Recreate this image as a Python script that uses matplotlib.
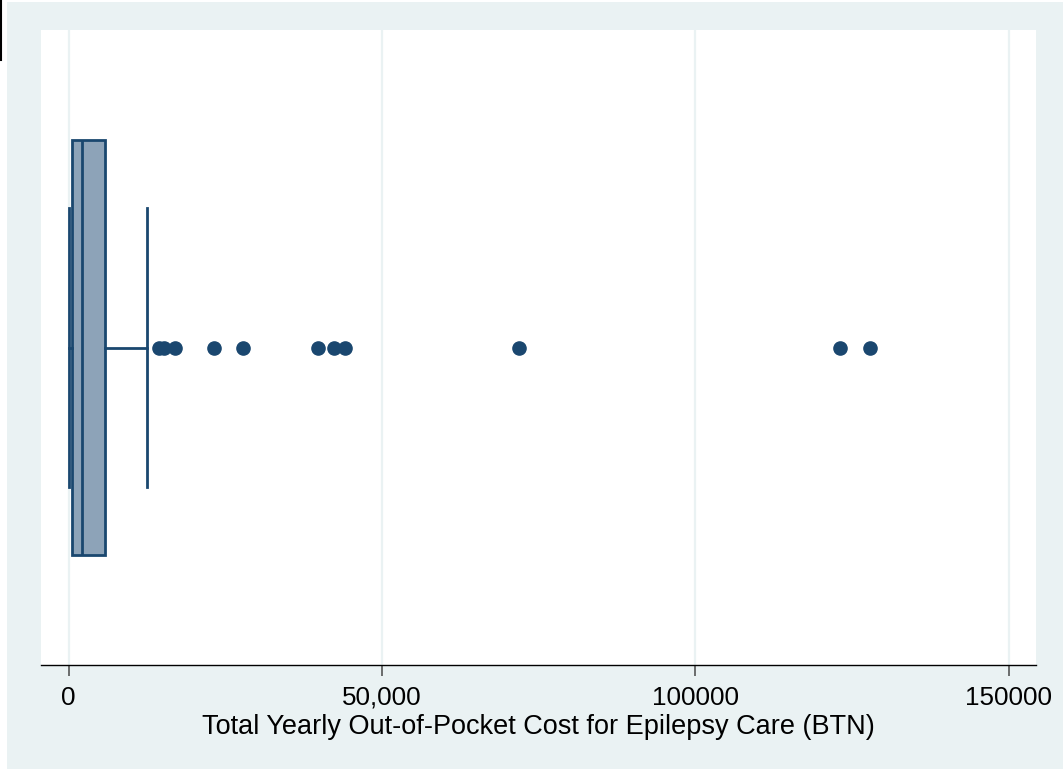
import matplotlib
matplotlib.use("Agg")
import matplotlib.pyplot as plt
from matplotlib.lines import Line2D
from matplotlib.patches import Rectangle

# box summary (BTN)
q1 = 480
median = 2075
q3 = 5790
whisker_low = 50
whisker_high = 12540
outliers = [14350, 15150, 16900, 23130, 27750, 39710, 42260, 44020,
            71930, 123120, 127910]

tick_values = [0, 50000, 100000, 150000]
tick_labels = ["0", "50,000", "100000", "150000"]
xlabel = "Total Yearly Out-of-Pocket Cost for Epilepsy Care (BTN)"

navy = "#1A476F"
box_fill = "#8DA3B8"
bg = "#EAF2F3"

plt.rcParams["font.family"] = ["Liberation Sans", "DejaVu Sans"]

W, H = 1063, 769
fig = plt.figure(figsize=(W / 100, H / 100), dpi=100, facecolor="white")
fig.patches.append(Rectangle((7 / W, 0), 1, 1 - 2 / H, transform=fig.transFigure,
                             facecolor=bg, edgecolor="none", zorder=-5))
fig.lines.append(Line2D([1 / W, 1 / W], [1, 1 - 60 / H], transform=fig.transFigure,
                        color="black", lw=1.5))

ax = fig.add_axes([41 / W, (H - 665) / H, 995 / W, 635 / H])
ax.set_facecolor("white")

stats = [{"q1": q1, "med": median, "q3": q3, "whislo": whisker_low,
          "whishi": whisker_high, "fliers": outliers}]
ax.bxp(stats, positions=[0], widths=[1.304], capwidths=[0.88],
       orientation="horizontal", patch_artist=True, showfliers=True,
       boxprops=dict(facecolor=box_fill, edgecolor=navy, linewidth=2),
       medianprops=dict(color=navy, linewidth=2),
       whiskerprops=dict(color=navy, linewidth=2),
       capprops=dict(color=navy, linewidth=2),
       flierprops=dict(marker="o", markersize=9.5, markerfacecolor=navy,
                       markeredgecolor=navy, linestyle="none"))

ax.set_ylim(-1, 1)
ax.set_xlim(-4420, 154350)
ax.set_yticks([])
ax.set_xticks(tick_values)
ax.set_xticklabels(tick_labels)
ax.tick_params(axis="x", length=8, width=1.2, color="#555555", labelsize=18.7,
               pad=7)
ax.grid(axis="x", color=bg, linewidth=1.6)
ax.set_axisbelow(True)
for side in ["left", "top", "right"]:
    ax.spines[side].set_visible(False)
ax.spines["bottom"].set_linewidth(1.0)
ax.set_xlabel(xlabel, fontsize=19.5, labelpad=3)

fig.savefig("out.png", dpi=100)
